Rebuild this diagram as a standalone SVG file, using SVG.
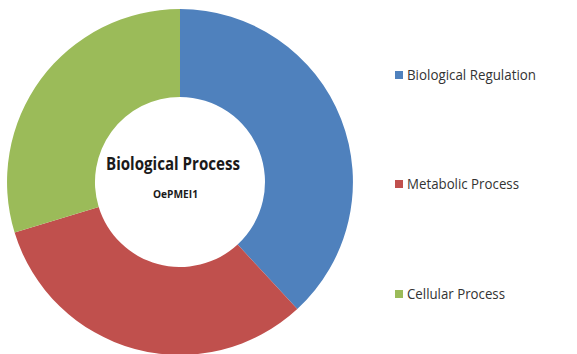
<svg xmlns="http://www.w3.org/2000/svg" width="577" height="354" viewBox="0 0 577 354">
<style>
.lbl{font-family:"Open Sans","Liberation Sans",sans-serif;fill:#333333;font-size:14px}
.ttl{font-family:"Open Sans","Liberation Sans",sans-serif;fill:#1a1a1a;font-weight:bold;text-anchor:middle}
</style>
<rect width="577" height="354" fill="#ffffff"/>
<g id="donut">
<path id="seg-blue" d="M180,9 A173,173 0 0 1 297.3,309.1 L237.6,244.5 A85,85 0 0 0 180,97 Z" fill="#4F81BD"/>
<path id="seg-red" d="M297.3,309.1 A173,173 0 0 1 14.6,232.6 L98.7,206.9 A85,85 0 0 0 237.6,244.5 Z" fill="#C0504D"/>
<path id="seg-green" d="M14.6,232.6 A173,173 0 0 1 180,9 L180,97 A85,85 0 0 0 98.7,206.9 Z" fill="#9BBB59"/>
</g>
<g id="center-text">
<text class="ttl" x="173" y="169.5" font-size="17" textLength="134" lengthAdjust="spacingAndGlyphs">Biological Process</text>
<text class="ttl" x="175.5" y="198" font-size="10" textLength="45" lengthAdjust="spacingAndGlyphs">OePMEI1</text>
</g>
<g id="legend">
<g id="leg-blue"><rect x="395" y="71" width="8" height="8" fill="#4F81BD"/><text class="lbl" x="407" y="79.5" textLength="129" lengthAdjust="spacingAndGlyphs">Biological Regulation</text></g>
<g id="leg-red"><rect x="395" y="180" width="8" height="8" fill="#C0504D"/><text class="lbl" x="407" y="189" textLength="112" lengthAdjust="spacingAndGlyphs">Metabolic Process</text></g>
<g id="leg-green"><rect x="395" y="290" width="8" height="8" fill="#9BBB59"/><text class="lbl" x="407" y="298.5" textLength="98" lengthAdjust="spacingAndGlyphs">Cellular Process</text></g>
</g>
</svg>
